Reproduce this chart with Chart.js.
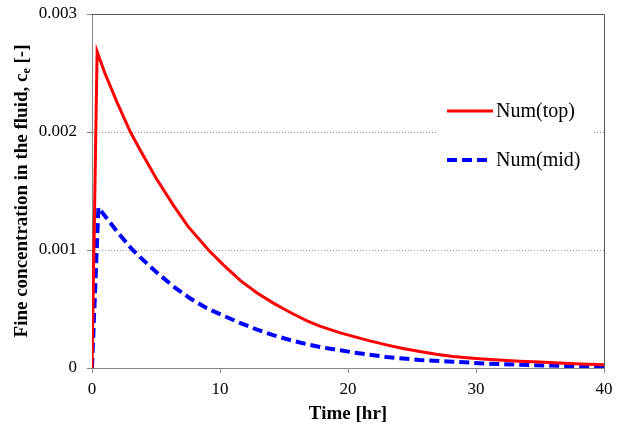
<!DOCTYPE html>
<html lang="en">
<head>
    <meta charset="UTF-8">
    <title>Fine concentration</title>
    <script src="https://cdn.jsdelivr.net/npm/chart.js"></script>
    <style>
        html, body { margin: 0; padding: 0; background: #fff; }
        #wrap { width: 622px; height: 428px; }
    </style>
</head>
<body>
    <div id="wrap"><canvas id="myChart" width="622" height="428"></canvas></div>

    <script>
        // data
        const timeTop = [0, 0.4, 1, 2, 3, 3.75, 5, 6.35, 7.5, 9.1, 10.3, 11.6, 12.9, 14.2, 15.5, 16.8, 17.8, 19.4, 20.4, 21.7, 23, 24.3, 25.6, 26.9, 28.2, 29.5, 30.8, 32.1, 33.4, 35, 36.5, 38.2, 40];
        const numTop = [0, 0.00268, 0.00250, 0.00224, 0.00200, 0.00185, 0.00161, 0.00138, 0.00120, 0.00100, 0.00087, 0.00074, 0.000635, 0.000548, 0.000470, 0.000400, 0.000355, 0.000298, 0.000268, 0.000230, 0.000196, 0.000165, 0.000139, 0.000116, 0.000097, 0.000084, 0.000074, 0.000065, 0.000058, 0.000050, 0.000042, 0.000034, 0.000027];

        const timeMid = [0, 0.5, 1, 2, 3.1, 3.75, 5, 6.35, 7.6, 8.96, 10.3, 11.56, 12.9, 14.16, 15.5, 16.77, 17.8, 19.4, 20.4, 21.7, 23, 24.3, 25.6, 28.2, 30.8, 33.4, 36.5, 40];
        const numMid = [0, 0.00136, 0.00129, 0.00115, 0.00101, 0.00094, 0.000815, 0.000692, 0.000595, 0.000506, 0.000442, 0.000382, 0.000325, 0.000278, 0.000236, 0.000202, 0.000178, 0.000150, 0.000132, 0.000112, 0.000093, 0.000080, 0.000068, 0.000053, 0.000038, 0.000027, 0.000018, 0.000012];

        const xTicks = [0, 10, 20, 30, 40];
        const yTicks = [0, 0.001, 0.002, 0.003];

        const FONT = "'Liberation Serif', 'Times New Roman', serif";

        function toPoints(xs, ys) {
            return xs.map((x, i) => ({ x: x, y: ys[i] }));
        }

        // frame, axis titles and in-plot legend
        const decorPlugin = {
            id: 'decor',
            beforeDatasetsDraw(chart) {
                const { ctx } = chart;
                ctx.save();
                // legend box background hides gridline
                ctx.fillStyle = '#fff';
                ctx.fillRect(438, 88, 154, 92);
                ctx.restore();
            },
            afterDraw(chart) {
                const { ctx, chartArea: a } = chart;
                ctx.save();
                // top and right frame
                ctx.strokeStyle = '#595959';
                ctx.lineWidth = 1;
                ctx.beginPath();
                ctx.moveTo(a.left, a.top + 0.5);
                ctx.lineTo(a.right + 0.5, a.top + 0.5);
                ctx.lineTo(a.right + 0.5, a.bottom);
                ctx.stroke();

                // legend
                const rows = [111, 160];
                chart.data.datasets.forEach((ds, i) => {
                    const y = rows[i];
                    ctx.strokeStyle = ds.borderColor;
                    ctx.lineWidth = ds.borderWidth;
                    ctx.setLineDash(ds.borderDash || []);
                    ctx.beginPath();
                    ctx.moveTo(447, y);
                    ctx.lineTo(i === 0 ? 493 : 489, y);
                    ctx.stroke();
                    ctx.setLineDash([]);
                    ctx.fillStyle = '#000';
                    ctx.font = '20px ' + FONT;
                    ctx.textBaseline = 'middle';
                    ctx.textAlign = 'left';
                    ctx.fillText(ds.label, 496, y + 1);
                });

                // x title
                ctx.fillStyle = '#000';
                ctx.font = 'bold 19px ' + FONT;
                ctx.textAlign = 'center';
                ctx.textBaseline = 'middle';
                ctx.fillText('Time [hr]', (a.left + a.right) / 2, 414);

                // y title with subscript
                ctx.translate(22, (a.top + a.bottom) / 2);
                ctx.rotate(-Math.PI / 2);
                const main = 'Fine concentration in the fluid, c';
                const sub = 'e';
                const tail = ' [-]';
                const big = 'bold 19px ' + FONT;
                const small = 'bold 12px ' + FONT;
                ctx.font = big;
                const w1 = ctx.measureText(main).width;
                const w3 = ctx.measureText(tail).width;
                ctx.font = small;
                const w2 = ctx.measureText(sub).width;
                const x = -(w1 + w2 + w3) / 2;
                ctx.textAlign = 'left';
                ctx.font = big;
                ctx.fillText(main, x, 0);
                ctx.font = small;
                ctx.fillText(sub, x + w1, 5);
                ctx.font = big;
                ctx.fillText(tail, x + w1 + w2, 0);
                ctx.restore();
            }
        };

        const ctx = document.getElementById('myChart').getContext('2d');
        const myChart = new Chart(ctx, {
            type: 'line',
            data: {
                datasets: [{
                    label: 'Num(top)',
                    data: toPoints(timeTop, numTop),
                    borderColor: '#FF0000',
                    borderWidth: 3,
                    pointRadius: 0,
                    tension: 0,
                    fill: false
                }, {
                    label: 'Num(mid)',
                    data: toPoints(timeMid, numMid),
                    borderColor: '#0000FF',
                    borderWidth: 4,
                    borderDash: [10, 5],
                    pointRadius: 0,
                    tension: 0,
                    fill: false
                }]
            },
            options: {
                responsive: false,
                animation: false,
                layout: { padding: { top: 14, right: 18, left: 0, bottom: 0 } },
                plugins: {
                    legend: { display: false },
                    tooltip: { enabled: false }
                },
                scales: {
                    x: {
                        type: 'linear',
                        min: 0,
                        max: 40,
                        afterFit(scale) {
                            scale.height = 60;
                            scale.paddingLeft = 0;
                            scale.paddingRight = 0;
                        },
                        afterBuildTicks(scale) { scale.ticks = xTicks.map(v => ({ value: v })); },
                        grid: {
                            drawOnChartArea: false,
                            drawTicks: true,
                            tickLength: 5,
                            tickColor: '#868686'
                        },
                        border: { color: '#868686', width: 1 },
                        ticks: {
                            color: '#000',
                            padding: 6,
                            maxRotation: 0,
                            font: { family: FONT, size: 17 }
                        }
                    },
                    y: {
                        min: 0,
                        max: 0.003,
                        afterFit(scale) {
                            scale.width = 92;
                            scale.paddingTop = 0;
                            scale.paddingBottom = 0;
                        },
                        afterBuildTicks(scale) { scale.ticks = yTicks.map(v => ({ value: v })); },
                        grid: {
                            color: c => (c.tick && (c.tick.value === 0.001 || c.tick.value === 0.002)) ? '#9a9a9a' : 'rgba(0,0,0,0)',
                            drawTicks: true,
                            tickLength: 5,
                            tickColor: '#868686',
                            tickBorderDash: []
                        },
                        border: { color: '#868686', width: 1, dash: [1, 2] },
                        ticks: {
                            color: '#000',
                            padding: 10,
                            font: { family: FONT, size: 17 },
                            callback: v => v === 0 ? '0' : v.toFixed(3)
                        }
                    }
                }
            },
            plugins: [decorPlugin]
        });
    </script>
</body>
</html>
